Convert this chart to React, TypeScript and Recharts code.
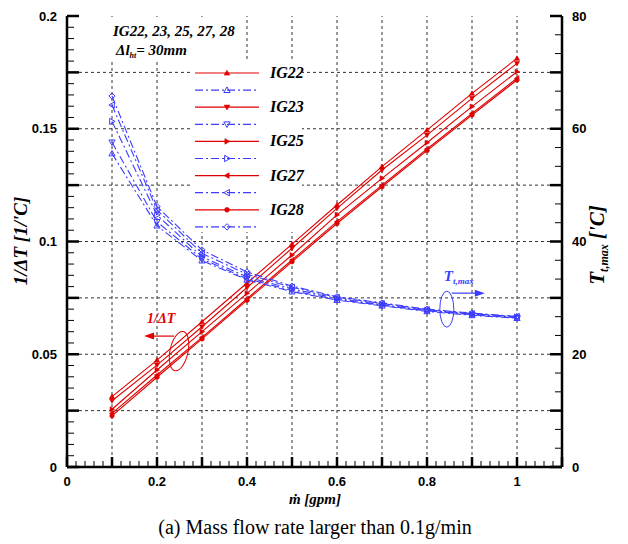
import React from 'react';
import { LineChart, Line, XAxis, YAxis, ReferenceLine, ReferenceDot } from 'recharts';

// ---------------- data ----------------
const flowRate = [0.1, 0.2, 0.3, 0.4, 0.5, 0.6, 0.7, 0.8, 0.9, 1.0];

const seriesNames = ['IG22', 'IG23', 'IG25', 'IG27', 'IG28'];

// 1/ΔT [1/'C]  (left axis)
const invDeltaT_IG22 = [0.0312, 0.0474, 0.0644, 0.0816, 0.0988, 0.1162, 0.1332, 0.1494, 0.1657, 0.1812];
const invDeltaT_IG23 = [0.0294, 0.0452, 0.0622, 0.0796, 0.0970, 0.1147, 0.1317, 0.1472, 0.1635, 0.1790];
const invDeltaT_IG25 = [0.0256, 0.0430, 0.0600, 0.0770, 0.0940, 0.1118, 0.1280, 0.1438, 0.1598, 0.1753];
const invDeltaT_IG27 = [0.0238, 0.0408, 0.0575, 0.0746, 0.0918, 0.1088, 0.1250, 0.1410, 0.1568, 0.1724];
const invDeltaT_IG28 = [0.0227, 0.0398, 0.0568, 0.0739, 0.0910, 0.1080, 0.1243, 0.1403, 0.1561, 0.1716];

// T_t,max ['C]  (right axis)
const tMax_IG22 = [55.6, 42.8, 36.6, 33.2, 31.1, 29.6, 28.6, 27.6, 26.9, 26.4];
const tMax_IG23 = [57.6, 43.5, 36.9, 33.4, 31.3, 29.7, 28.7, 27.7, 27.0, 26.5];
const tMax_IG25 = [61.3, 44.7, 37.3, 33.7, 31.6, 29.9, 28.8, 27.8, 27.1, 26.6];
const tMax_IG27 = [64.2, 45.6, 37.9, 34.2, 31.9, 30.1, 29.0, 27.9, 27.2, 26.7];
const tMax_IG28 = [65.8, 46.2, 38.5, 34.6, 32.1, 30.2, 29.1, 28.0, 27.3, 26.7];

const invDeltaT: Record<string, number[]> = {
  IG22: invDeltaT_IG22, IG23: invDeltaT_IG23, IG25: invDeltaT_IG25, IG27: invDeltaT_IG27, IG28: invDeltaT_IG28,
};
const tMax: Record<string, number[]> = {
  IG22: tMax_IG22, IG23: tMax_IG23, IG25: tMax_IG25, IG27: tMax_IG27, IG28: tMax_IG28,
};

// tick labels
const xTickLabels = [0, 0.2, 0.4, 0.6, 0.8, 1];
const leftTickLabels = [0, 0.05, 0.1, 0.15, 0.2];
const rightTickLabels = [0, 20, 40, 60, 80];
const xGridValues = [0.1, 0.2, 0.3, 0.4, 0.5, 0.6, 0.7, 0.8, 0.9, 1.0];
const yGridValues = [0.025, 0.05, 0.075, 0.1, 0.125, 0.15, 0.175];

// minor/major tick positions
const steps = (from: number, to: number, step: number) => {
  const out: number[] = [];
  const n = Math.round((to - from) / step);
  for (let i = 0; i <= n; i++) out.push(+(from + i * step).toFixed(6));
  return out;
};
const xTicks = steps(0, 1.1, 0.02);
const leftTicks = steps(0, 0.2, 0.005);
const rightTicks = steps(0, 80, 10 / 3);

// ---------------- styles ----------------
const RED = '#e00000';
const BLUE = '#3c3cff';
const SANS = '"Liberation Sans", Arial, sans-serif';
const SERIF = '"Liberation Serif", "Times New Roman", serif';

const redShape: Record<string, string> = { IG22: 'up', IG23: 'down', IG25: 'right', IG27: 'left', IG28: 'circle' };
const blueShape: Record<string, string> = { IG22: 'up', IG23: 'down', IG25: 'right', IG27: 'left', IG28: 'diamond' };

const table = flowRate.map((x, i) => {
  const row: Record<string, number> = { x };
  seriesNames.forEach((n) => {
    row[`${n}_inv`] = invDeltaT[n][i];
    row[`${n}_t`] = tMax[n][i];
  });
  return row;
});

const near = (a: number, b: number) => Math.abs(a - b) < 1e-6;
const isMultiple = (v: number, s: number) => Math.abs(v / s - Math.round(v / s)) < 1e-4;

function Marker({ shape, cx, cy, r, color, filled }: any) {
  const fill = filled ? color : 'none';
  const sw = filled ? 0.6 : 1;
  if (shape === 'circle') return <circle cx={cx} cy={cy} r={r * 0.85} fill={fill} stroke={color} strokeWidth={sw} />;
  let d = '';
  if (shape === 'up') d = `M${cx},${cy - r} L${cx + r},${cy + r * 0.75} L${cx - r},${cy + r * 0.75} Z`;
  if (shape === 'down') d = `M${cx},${cy + r} L${cx + r},${cy - r * 0.75} L${cx - r},${cy - r * 0.75} Z`;
  if (shape === 'right') d = `M${cx + r},${cy} L${cx - r * 0.75},${cy - r} L${cx - r * 0.75},${cy + r} Z`;
  if (shape === 'left') d = `M${cx - r},${cy} L${cx + r * 0.75},${cy - r} L${cx + r * 0.75},${cy + r} Z`;
  if (shape === 'diamond') d = `M${cx},${cy - r} L${cx + r},${cy} L${cx},${cy + r} L${cx - r},${cy} Z`;
  return <path d={d} fill={fill} stroke={color} strokeWidth={sw} />;
}

const XTick = (props: any) => {
  const { x, y, payload } = props;
  const v = payload.value;
  const major = isMultiple(v, 0.1);
  const lab = xTickLabels.find((t) => near(t, v));
  return (
    <g>
      <line x1={x} x2={x} y1={y} y2={y - (major ? 10 : 6)} stroke="#000" strokeWidth={major ? 2.5 : 1} />
      {lab !== undefined && (
        <text x={x} y={y + 19} textAnchor="middle" fontFamily={SANS} fontWeight="bold" fontSize={13} fill="#000">
          {String(lab)}
        </text>
      )}
    </g>
  );
};

const LeftTick = (props: any) => {
  const { x, y, payload } = props;
  const v = payload.value;
  const major = isMultiple(v, 0.025);
  const lab = leftTickLabels.find((t) => near(t, v));
  return (
    <g>
      <line x1={x} x2={x + (major ? 12 : 7)} y1={y} y2={y} stroke="#000" strokeWidth={major ? 2.5 : 1} />
      {lab !== undefined && (
        <text x={x - 10} y={y + 4.5} textAnchor="end" fontFamily={SANS} fontWeight="bold" fontSize={13} fill="#000">
          {String(lab)}
        </text>
      )}
    </g>
  );
};

const RightTick = (props: any) => {
  const { x, y, payload } = props;
  const v = payload.value;
  const major = isMultiple(v, 10);
  const lab = rightTickLabels.find((t) => Math.abs(t - v) < 1e-3);
  return (
    <g>
      <line x1={x} x2={x - (major ? 12 : 7)} y1={y} y2={y} stroke="#000" strokeWidth={major ? 2.5 : 1} />
      {lab !== undefined && (
        <text x={x + 10} y={y + 4.5} textAnchor="start" fontFamily={SANS} fontWeight="bold" fontSize={13} fill="#000">
          {String(lab)}
        </text>
      )}
    </g>
  );
};

const RedNote = (p: any) => {
  const { cx, cy } = p;
  return (
    <g>
      <ellipse cx={cx} cy={cy} rx={9} ry={20} transform={`rotate(12 ${cx} ${cy})`} fill="none" stroke={RED} strokeWidth={1} />
      <line x1={cx - 5} y1={cy - 15} x2={cx - 27} y2={cy - 15} stroke={RED} strokeWidth={1.2} />
      <path d={`M${cx - 35},${cy - 15} L${cx - 25},${cy - 18.5} L${cx - 25},${cy - 11.5} Z`} fill={RED} />
      <text x={cx - 32} y={cy - 28} fontFamily={SERIF} fontStyle="italic" fontWeight="bold" fontSize={14} fill={RED}>
        1/ΔT
      </text>
    </g>
  );
};

const BlueNote = (p: any) => {
  const { cx, cy } = p;
  return (
    <g>
      <ellipse cx={cx} cy={cy} rx={7} ry={18} fill="none" stroke={BLUE} strokeWidth={1} />
      <line x1={cx + 5} y1={cy - 16} x2={cx + 30} y2={cy - 16} stroke={BLUE} strokeWidth={1.2} />
      <path d={`M${cx + 38},${cy - 16} L${cx + 28},${cy - 19.5} L${cx + 28},${cy - 12.5} Z`} fill={BLUE} />
      <text x={cx - 3} y={cy - 28} fontFamily={SERIF} fontStyle="italic" fontWeight="bold" fontSize={15} fill={BLUE}>
        T<tspan fontSize={9} dy={3}>t,max</tspan>
      </text>
    </g>
  );
};

function LegendBox() {
  const rows: { name: string; color: string; dash?: string; shape: string; filled: boolean; label: boolean }[] = [];
  seriesNames.forEach((n) => {
    rows.push({ name: n, color: RED, shape: redShape[n], filled: true, label: true });
    rows.push({ name: n, color: BLUE, dash: '8 3 2 3', shape: blueShape[n], filled: false, label: false });
  });
  return (
    <svg width={130} height={174} style={{ position: 'absolute', left: 191, top: 62, overflow: 'visible' }}>
      <rect x={0} y={0} width={111} height={170} fill="#fff" />
      {rows.map((r, i) => {
        const y = 11 + i * 17.1;
        return (
          <g key={i}>
            <line x1={4} x2={68} y1={y} y2={y} stroke={r.color} strokeWidth={1.2} strokeDasharray={r.dash} />
            <Marker shape={r.shape} cx={36} cy={y} r={r.filled ? 2.8 : 3.2} color={r.color} filled={r.filled} />
            {r.label && (
              <text x={79} y={y + 5} fontFamily={SERIF} fontStyle="italic" fontWeight="bold" fontSize={16} fill="#000">
                {r.name}
              </text>
            )}
          </g>
        );
      })}
    </svg>
  );
}

export default function App() {
  return (
    <div style={{ position: 'absolute', left: 0, top: 0, width: 628, height: 544, background: '#fff' }}>
      <LineChart width={628} height={544} data={table} margin={{ top: 16, right: 6, bottom: 47, left: 7 }}>
        <XAxis
          dataKey="x"
          type="number"
          domain={[0, 1.1]}
          ticks={xTicks}
          interval={0}
          tickSize={0}
          tickMargin={0}
          tickLine={false}
          tick={<XTick />}
          axisLine={{ stroke: '#000', strokeWidth: 2.5 }}
          height={30}
          allowDataOverflow
        />
        <XAxis
          xAxisId="top"
          orientation="top"
          dataKey="x"
          type="number"
          domain={[0, 1.1]}
          tick={false}
          tickLine={false}
          height={0}
          axisLine={{ stroke: '#000', strokeWidth: 2.5 }}
        />
        <YAxis
          yAxisId="left"
          orientation="left"
          type="number"
          domain={[0, 0.2]}
          ticks={leftTicks}
          interval={0}
          tickSize={0}
          tickMargin={0}
          tickLine={false}
          tick={<LeftTick />}
          axisLine={{ stroke: '#000', strokeWidth: 2.5 }}
          width={60}
          allowDataOverflow
        />
        <YAxis
          yAxisId="right"
          orientation="right"
          type="number"
          domain={[0, 80]}
          ticks={rightTicks}
          interval={0}
          tickSize={0}
          tickMargin={0}
          tickLine={false}
          tick={<RightTick />}
          axisLine={{ stroke: '#000', strokeWidth: 2.5 }}
          width={60}
          allowDataOverflow
        />
        {xGridValues.map((v) => (
          <ReferenceLine key={`gx${v}`} x={v} yAxisId="left" stroke="#333" strokeDasharray="3 3" strokeWidth={1} />
        ))}
        {yGridValues.map((v) => (
          <ReferenceLine key={`gy${v}`} y={v} yAxisId="left" stroke="#333" strokeDasharray="3 3" strokeWidth={1} />
        ))}
        {seriesNames.map((n) => (
          <Line
            key={`${n}_inv`}
            yAxisId="left"
            dataKey={`${n}_inv`}
            name={n}
            stroke={RED}
            strokeWidth={1.1}
            isAnimationActive={false}
            dot={(p: any) => (
              <Marker key={`${n}_inv_${p.index}`} shape={redShape[n]} cx={p.cx} cy={p.cy} r={2.6} color={RED} filled />
            )}
          />
        ))}
        {seriesNames.map((n) => (
          <Line
            key={`${n}_t`}
            yAxisId="right"
            dataKey={`${n}_t`}
            name={`${n} T`}
            stroke={BLUE}
            strokeWidth={1.1}
            strokeDasharray="8 3 2 3"
            isAnimationActive={false}
            dot={(p: any) => (
              <Marker key={`${n}_t_${p.index}`} shape={blueShape[n]} cx={p.cx} cy={p.cy} r={3.1} color={BLUE} filled={false} />
            )}
          />
        ))}
        <ReferenceDot x={0.249} y={0.0514} yAxisId="left" r={0} ifOverflow="visible" shape={<RedNote />} />
        <ReferenceDot x={0.844} y={28.0} yAxisId="right" r={0} ifOverflow="visible" shape={<BlueNote />} />
      </LineChart>

      <svg width={628} height={544} style={{ position: 'absolute', left: 0, top: 0, pointerEvents: 'none' }}>
        <rect x={100} y={19} width={145} height={43} fill="#fff" />
        <text x={113} y={36} fontFamily={SERIF} fontStyle="italic" fontWeight="bold" fontSize={15} fill="#000">
          IG22, 23, 25, 27, 28
        </text>
        <text x={116} y={55} fontFamily={SERIF} fontStyle="italic" fontWeight="bold" fontSize={15} fill="#000">
          Δl<tspan fontSize={8} dy={3}>ht</tspan>
          <tspan dy={-3}>= 30mm</tspan>
        </text>
        <text
          transform="translate(27,241) rotate(-90)"
          textAnchor="middle"
          fontFamily={SERIF}
          fontStyle="italic"
          fontWeight="bold"
          fontSize={19}
          fill="#000"
        >
          1/ΔT [1/'C]
        </text>
        <text
          transform="translate(604,245) rotate(-90)"
          textAnchor="middle"
          fontFamily={SERIF}
          fontStyle="italic"
          fontWeight="bold"
          fontSize={21}
          fill="#000"
        >
          T<tspan fontSize={12} dy={4}>t,max</tspan>
          <tspan dy={-4}> ['C]</tspan>
        </text>
        <text x={315} y={504} textAnchor="middle" fontFamily={SERIF} fontStyle="italic" fontWeight="bold" fontSize={15} fill="#000">
          ṁ [gpm]
        </text>
        <text x={315} y={534} textAnchor="middle" fontFamily={SERIF} fontSize={20} fill="#000">
          (a) Mass flow rate larger than 0.1g/min
        </text>
      </svg>
      <LegendBox />
    </div>
  );
}
